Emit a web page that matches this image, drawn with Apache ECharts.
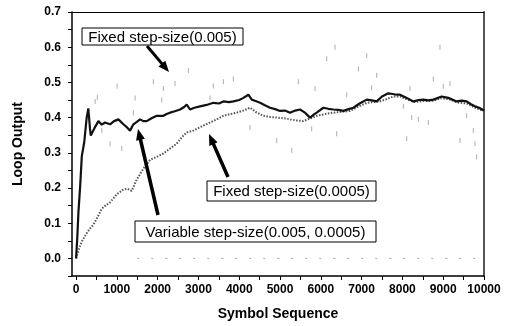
<!DOCTYPE html>
<html>
<head>
<meta charset="utf-8">
<script src="https://cdn.jsdelivr.net/npm/echarts@6/dist/echarts.min.js"></script>
<style>html,body{margin:0;padding:0;background:#fff}#c{width:505px;height:326px}</style>
</head>
<body>
<div id="c"></div>
<script>
// Variable step-size(0.005, 0.0005): solid black curve [symbol index, loop output]
const variableStep = [[0,0],[30,0.06],[57,0.13],[100,0.205],[140,0.29],[200,0.33],[260,0.40],[300,0.426],[340,0.37],[360,0.349],[385,0.354],[450,0.37],[547,0.39],[630,0.38],[710,0.386],[833,0.381],[930,0.39],[1037,0.395],[1160,0.381],[1250,0.372],[1323,0.363],[1405,0.381],[1490,0.388],[1569,0.395],[1650,0.39],[1732,0.39],[1850,0.398],[1977,0.405],[2140,0.405],[2220,0.41],[2304,0.414],[2420,0.418],[2549,0.423],[2650,0.43],[2712,0.437],[2794,0.423],[2900,0.428],[3039,0.432],[3200,0.436],[3366,0.442],[3500,0.44],[3611,0.446],[3750,0.444],[3856,0.446],[4000,0.45],[4101,0.456],[4224,0.465],[4306,0.451],[4400,0.447],[4510,0.442],[4630,0.435],[4755,0.428],[4880,0.424],[5000,0.419],[5120,0.42],[5245,0.414],[5370,0.42],[5490,0.423],[5600,0.415],[5735,0.40],[5820,0.408],[5899,0.414],[6062,0.428],[6180,0.425],[6307,0.423],[6430,0.422],[6552,0.419],[6680,0.424],[6797,0.428],[6950,0.44],[7125,0.451],[7250,0.449],[7370,0.446],[7500,0.46],[7655,0.469],[7760,0.467],[7860,0.465],[7941,0.465],[8105,0.456],[8268,0.446],[8400,0.45],[8513,0.451],[8640,0.449],[8758,0.451],[8962,0.46],[9125,0.456],[9330,0.446],[9450,0.448],[9575,0.446],[9680,0.438],[9779,0.432],[9880,0.428],[10000,0.42]];

// Fixed step-size(0.0005): slow dotted curve
const fixedSmall = [[0,0],[16,0.006],[80,0.03],[140,0.048],[250,0.07],[343,0.085],[420,0.095],[507,0.113],[630,0.141],[720,0.15],[833,0.159],[997,0.182],[1160,0.196],[1250,0.198],[1365,0.192],[1487,0.224],[1650,0.255],[1814,0.28],[2000,0.29],[2140,0.298],[2300,0.312],[2467,0.326],[2600,0.345],[2712,0.358],[2875,0.363],[3080,0.375],[3284,0.386],[3450,0.395],[3611,0.405],[3780,0.41],[3938,0.414],[4100,0.42],[4265,0.428],[4420,0.415],[4591,0.405],[4750,0.402],[4918,0.40],[5100,0.398],[5245,0.395],[5400,0.392],[5571,0.39],[5750,0.398],[5899,0.405],[6100,0.41],[6307,0.414],[6500,0.416],[6716,0.419],[6900,0.43],[7125,0.442],[7300,0.444],[7451,0.446],[7600,0.452],[7777,0.46],[7950,0.46],[8105,0.452],[8300,0.444],[8500,0.447],[8750,0.448],[8960,0.455],[9150,0.452],[9350,0.443],[9580,0.44],[9780,0.428],[10000,0.418]];

// Fixed step-size(0.005): faint scattered specks (noisy, largely faded)
const fixedLarge = [[466,0.446],[522,0.457],[630,0.363],[833,0.326],[1005,0.49],[1120,0.312],[1405,0.414],[1446,0.456],[1895,0.502],[2100,0.45],[2140,0.483],[2426,0.497],[2753,0.534],[3284,0.456],[3365,0.49],[3611,0.502],[3856,0.51],[4265,0.372],[4918,0.335],[5286,0.307],[5449,0.502],[5776,0.368],[5858,0.483],[6144,0.567],[6348,0.60],[6389,0.354],[6634,0.465],[6920,0.539],[7125,0.576],[7247,0.485],[7370,0.52],[8023,0.432],[8105,0.34],[8186,0.483],[8227,0.40],[8390,0.395],[8636,0.386],[8758,0.51],[8921,0.60],[9003,0.488],[9166,0.497],[9412,0.335],[9575,0.405],[9738,0.363],[9779,0.326],[9820,0.289]];

// faint dotted trace along zero
const zeroTrace = [[1500,0],[10000,0]];

const labelTexts = ['Fixed step-size(0.005)', 'Fixed step-size(0.0005)', 'Variable step-size(0.005, 0.0005)'];
const xName = 'Symbol Sequence';
const yName = 'Loop Output';

const FONT = '"Liberation Sans", Arial, sans-serif';
const chart = echarts.init(document.getElementById('c'), null, {renderer: 'canvas'});

function arrow(x1, y1, x2, y2, w) {
  const dx = x2 - x1, dy = y2 - y1, L = Math.hypot(dx, dy);
  const ux = dx / L, uy = dy / L, hl = 11, hw = 4.5;
  const bx = x2 - ux * hl, by = y2 - uy * hl;
  return [
    {type: 'line', shape: {x1: x1, y1: y1, x2: bx + ux, y2: by + uy}, style: {stroke: '#000', lineWidth: w}, z: 100},
    {type: 'polygon', shape: {points: [[x2, y2], [bx - uy * hw, by + ux * hw], [bx + uy * hw, by - ux * hw]]}, style: {fill: '#000'}, z: 100}
  ];
}
function box(x, y, w, h, text) {
  return [
    {type: 'rect', shape: {x: x, y: y, width: w, height: h}, style: {fill: '#fff', stroke: '#000', lineWidth: 1}, z: 100},
    {type: 'text', x: x + w / 2, y: y + h / 2 + 1, style: {text: text, fill: '#000', font: '15px ' + FONT, align: 'center', verticalAlign: 'middle'}, z: 101}
  ];
}

const axisText = {color: '#000', fontFamily: FONT, fontSize: 12, fontWeight: 'bold'};
const nameText = {color: '#000', fontFamily: FONT, fontSize: 14, fontWeight: 'bold'};

chart.setOption({
  animation: false,
  backgroundColor: '#fff',
  grid: {left: 72, right: 21, top: 12, bottom: 43},
  xAxis: [{
    type: 'value', min: -100, max: 10000, splitNumber: 20,
    name: xName, nameLocation: 'middle', nameGap: 31,
    nameTextStyle: nameText,
    axisLine: {onZero: false, lineStyle: {color: '#000', width: 1.5}},
    axisTick: {length: 4, lineStyle: {color: '#000'}},
    splitLine: {show: false},
    axisLabel: Object.assign({margin: 8, showMinLabel: false, formatter: function (v) { return (v >= 0 && v % 1000 === 0) ? String(v) : ''; }}, axisText)
  }, {
    type: 'value', position: 'top', min: -100, max: 10000,
    axisLine: {show: true, onZero: false, lineStyle: {color: '#000', width: 1.2}},
    axisTick: {show: false}, axisLabel: {show: false}, splitLine: {show: false}
  }],
  yAxis: [{
    type: 'value', min: -0.05, max: 0.7, interval: 0.05,
    name: yName, nameLocation: 'middle', nameGap: 47,
    nameTextStyle: nameText,
    axisLine: {show: true, onZero: false, lineStyle: {color: '#000', width: 1.5}},
    axisTick: {show: true, length: 4, lineStyle: {color: '#000'}},
    splitLine: {show: false},
    axisLabel: Object.assign({margin: 11, formatter: function (v) {
      const k = Math.round(v * 100);
      return (k >= 0 && k % 10 === 0) ? (k / 100).toFixed(1) : '';
    }}, axisText)
  }, {
    type: 'value', position: 'right', min: -0.05, max: 0.7,
    axisLine: {show: true, onZero: false, lineStyle: {color: '#555', width: 2}},
    axisTick: {show: false}, axisLabel: {show: false}, splitLine: {show: false}
  }],
  series: [
    {name: labelTexts[0], type: 'scatter', data: fixedLarge, symbol: 'rect', symbolSize: [1, 5],
     itemStyle: {color: '#999'}, silent: true, z: 1},
    {name: 'zero', type: 'line', data: zeroTrace, showSymbol: false, silent: true,
     lineStyle: {color: '#aaa', width: 1, type: [2, 12]}, z: 1},
    {name: labelTexts[1], type: 'line', data: fixedSmall, showSymbol: false, silent: true,
     lineStyle: {color: '#555', width: 2, type: [1.5, 1.5]}, z: 2},
    {name: labelTexts[2], type: 'line', data: variableStep, showSymbol: false, silent: true,
     lineStyle: {color: '#111', width: 2.2}, z: 3}
  ],
  graphic: [].concat(
    box(82, 28, 161, 17, labelTexts[0]),
    box(207, 181, 169, 20, labelTexts[1]),
    box(135, 221, 241, 21, labelTexts[2]),
    arrow(147, 46, 169, 72, 3),
    arrow(158, 215, 138, 129, 3.5),
    arrow(228, 177, 209, 134, 3.5)
  )
});
</script>
</body>
</html>
